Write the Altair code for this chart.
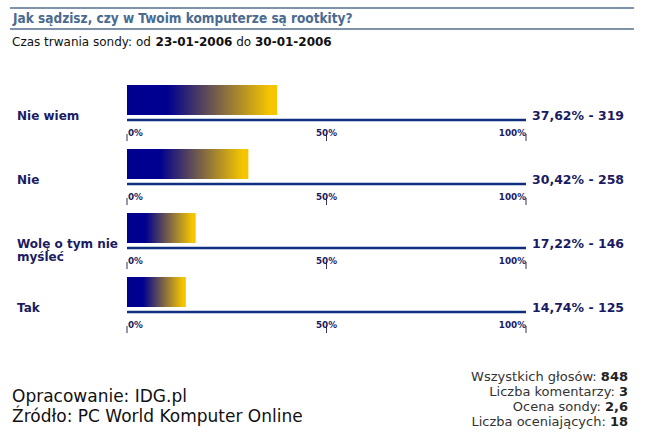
import altair as alt
import pandas as pd

# ---- data ----
categories = ["Nie wiem", "Nie", "Wolę o tym nie myśleć", "Tak"]
cat_labels = ["Nie wiem", "Nie", "Wolę o tym nie\nmyśleć", "Tak"]
percents = [37.62, 30.42, 17.22, 14.74]
votes = [319, 258, 146, 125]
tick_values = [0, 50, 100]
tick_labels = ["0%", "50%", "100%"]

title_text = "Jak sądzisz, czy w Twoim komputerze są rootkity?"
subtitle_parts = [("Czas trwania sondy: od", False), ("23-01-2006", True),
                  ("do", False), ("30-01-2006", True)]
footer_text = "Opracowanie: IDG.pl\nŹródło: PC World Komputer Online"
stats_labels = ["Wszystkich głosów:", "Liczba komentarzy:", "Ocena sondy:", "Liczba oceniających:"]
stats_values = ["848", "3", "2,6", "18"]

FONT = "DejaVu Sans"
NAVY = "#1b1b62"
AXIS_BLUE = "#0f2f80"

df = pd.DataFrame({
    "cat": categories,
    "label": cat_labels,
    "pct": percents,
    "votes": votes,
})
df["value_text"] = [f"{p:.2f}".replace(".", ",") + "% - " + str(v) for p, v in zip(percents, votes)]

ticks = pd.DataFrame([(c, t, l) for c in categories for t, l in zip(tick_values, tick_labels)],
                     columns=["cat", "tick", "tlabel"])

# approximate DejaVu Sans advance widths (em)
REG = {" ": .318, ":": .337, ",": .318, "-": .361, ".": .318}
for ch in "0123456789":
    REG[ch] = .636
REG.update({"a": .613, "b": .635, "c": .550, "d": .635, "e": .615, "g": .635, "h": .634,
            "i": .278, "j": .278, "k": .579, "l": .278, "m": .974, "n": .634, "o": .612,
            "p": .635, "r": .411, "s": .521, "t": .392, "u": .634, "w": .818, "y": .592,
            "z": .525, "C": .698, "ą": .613, "ó": .612, "ł": .3})
BOLD = {" ": .348, ",": .380, "-": .415}
for ch in "0123456789":
    BOLD[ch] = .696


def text_w(s, size, bold=False):
    table = BOLD if bold else REG
    return sum(table.get(ch, .62) for ch in s) * size


xscale = alt.Scale(domain=[0, 100], range=[127, 526], nice=False, zero=False)
yscale = alt.Scale(domain=categories, range=[85, 307], paddingInner=34 / 64, paddingOuter=0)

one = pd.DataFrame({"k": [0]})

layers = []

# header rules
for yy in (8, 29):
    layers.append(alt.Chart(one).mark_rule(color="#7e92a9", strokeWidth=2).encode(
        x=alt.value(10), x2=alt.value(634), y=alt.value(yy)))

# title
layers.append(alt.Chart(one).mark_text(
    align="left", baseline="alphabetic", font="DejaVu Sans Condensed", fontSize=13.5,
    fontWeight="bold", color="#4a6b8f").encode(
    x=alt.value(13), y=alt.value(23), text=alt.value(title_text)))

# subtitle segments
x0 = 12.0
for txt, b in subtitle_parts:
    layers.append(alt.Chart(one).mark_text(
        align="left", baseline="alphabetic", font=FONT, fontSize=12,
        fontWeight="bold" if b else "normal", color="#111111").encode(
        x=alt.value(x0), y=alt.value(46), text=alt.value(txt)))
    x0 += text_w(txt, 12, b) + 0.318 * 12

gradient = alt.Gradient(
    gradient="linear",
    stops=[alt.GradientStop(color="#00008f", offset=0),
           alt.GradientStop(color="#000090", offset=0.27),
           alt.GradientStop(color="#f4c500", offset=0.95),
           alt.GradientStop(color="#f4c500", offset=1)],
    x1=0, x2=1, y1=0, y2=0)

base = alt.Chart(df)

bars = base.mark_bar(fill=gradient).encode(
    x=alt.X("pct:Q", scale=xscale, axis=None),
    y=alt.Y("cat:N", scale=yscale, axis=None),
)
layers.append(bars)

axis_lines = base.mark_rule(color=AXIS_BLUE, strokeWidth=2.6, yOffset=35).encode(
    x=alt.X(datum=0, scale=xscale, axis=None),
    x2=alt.X2(datum=100),
    y=alt.Y("cat:N", bandPosition=0, scale=yscale, axis=None),
)
layers.append(axis_lines)

tick_marks = alt.Chart(ticks).mark_tick(orient="vertical", size=7, thickness=1,
                                         color="#2e3560", yOffset=37.5, opacity=1).encode(
    x=alt.X("tick:Q", scale=xscale, axis=None),
    y=alt.Y("cat:N", bandPosition=0, scale=yscale, axis=None),
)
layers.append(tick_marks)

for t, al in zip(tick_values, ["left", "center", "right"]):
    layers.append(alt.Chart(ticks).transform_filter(alt.datum.tick == t).mark_text(
        align=al, baseline="alphabetic", font=FONT, fontSize=8.8, fontWeight="bold",
        color=NAVY, yOffset=50.5, dx=1 if al == "left" else 0).encode(
        x=alt.X("tick:Q", scale=xscale, axis=None),
        y=alt.Y("cat:N", bandPosition=0, scale=yscale, axis=None),
        text="tlabel:N"))

cat_text = base.mark_text(align="left", baseline="middle", font=FONT, fontSize=12,
                          fontWeight="bold", color=NAVY, lineBreak="\n", lineHeight=12.5,
                          yOffset=31).encode(
    x=alt.value(17),
    y=alt.Y("cat:N", bandPosition=0, scale=yscale, axis=None),
    text="label:N")
layers.append(cat_text)

value_text = base.mark_text(align="left", baseline="alphabetic", font=FONT, fontSize=12.5,
                            fontWeight="bold", color=NAVY, dx=6, yOffset=35).encode(
    x=alt.X(datum=100, scale=xscale, axis=None),
    y=alt.Y("cat:N", bandPosition=0, scale=yscale, axis=None),
    text="value_text:N")
layers.append(value_text)

# footer (one two-line text)
layers.append(alt.Chart(one).mark_text(
    align="left", baseline="alphabetic", font=FONT, fontSize=17, color="#111111",
    lineBreak="\n", lineHeight=20).encode(
    x=alt.value(12), y=alt.value(402), text=alt.value(footer_text)))

# stats
for i, (lab, val) in enumerate(zip(stats_labels, stats_values)):
    yy = 381 + 15 * i
    layers.append(alt.Chart(one).mark_text(
        align="right", baseline="alphabetic", font=FONT, fontSize=13,
        fontWeight="bold", color="#222222").encode(
        x=alt.value(628), y=alt.value(yy), text=alt.value(val)))
    layers.append(alt.Chart(one).mark_text(
        align="right", baseline="alphabetic", font=FONT, fontSize=13, color="#333333").encode(
        x=alt.value(628 - text_w(val, 13, True) - 0.318 * 13), y=alt.value(yy), text=alt.value(lab)))

chart = alt.layer(*layers).properties(
    width=648, height=444, autosize="none", padding=0, background="white"
).configure_view(stroke=None)

chart.save("out.html", embed_options={"renderer": "svg", "actions": False})
